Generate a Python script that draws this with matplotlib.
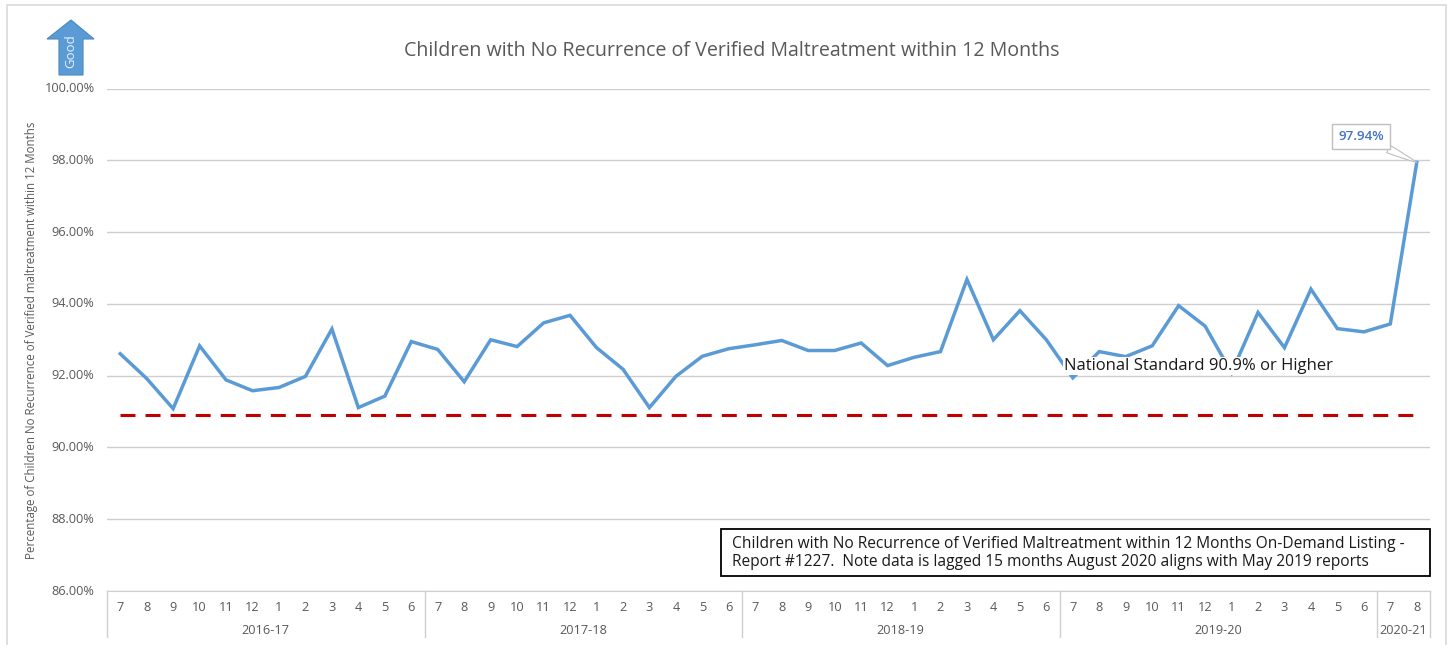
import matplotlib
matplotlib.use("Agg")
import matplotlib.pyplot as plt
from matplotlib.patches import Polygon, Rectangle
from matplotlib.ticker import FuncFormatter
from matplotlib.transforms import ScaledTranslation

W, H = 1450, 645

fiscal_years = ["2016-17", "2017-18", "2018-19", "2019-20", "2020-21"]
months_per_year = [12, 12, 12, 12, 2]
month_labels = [7, 8, 9, 10, 11, 12, 1, 2, 3, 4, 5, 6] * 4 + [7, 8]

recurrence = [92.61, 91.92, 91.08, 92.83, 91.88, 91.58, 91.67, 91.98, 93.30, 91.11, 91.43, 92.95,
              92.73, 91.83, 93.00, 92.81, 93.47, 93.68, 92.78, 92.18, 91.11, 91.98, 92.54, 92.75,
              92.86, 92.98, 92.70, 92.70, 92.91, 92.28, 92.51, 92.67, 94.68, 93.00, 93.81, 93.00,
              91.94, 92.67, 92.53, 92.83, 93.95, 93.38, 92.08, 93.76, 92.78, 94.41, 93.31, 93.22,
              93.44, 97.94]
national_standard = [90.9] * 50
y_ticks = [86, 88, 90, 92, 94, 96, 98, 100]

title_text = "Children with No Recurrence of Verified Maltreatment within 12 Months"
ylabel_text = "Percentage of Children No Recurrence of Verified maltreatment within 12 Months"
standard_text = "National Standard 90.9% or Higher"
note_text = ("Children with No Recurrence of Verified Maltreatment within 12 Months On-Demand Listing -\n"
             "Report #1227.  Note data is lagged 15 months August 2020 aligns with May 2019 reports")

GREY = "#595959"
GRID = "#CFCFCF"
BLUE = "#5B9BD5"


def fx(x):
    return x / W


def fy(y):
    return 1 - y / H


plt.rcParams["font.family"] = ["Open Sans", "DejaVu Sans"]

fig = plt.figure(figsize=(W / 100, H / 100), dpi=100)
ax = fig.add_axes([fx(107), fy(591), (1430 - 107) / W, (591 - 88.5) / H])

xs = list(range(len(recurrence)))
ax.plot(xs, national_standard, color="#C00000", lw=2.2, ls=(0, (4.9, 3.3)), zorder=3)
ax.plot(xs, recurrence, color=BLUE, lw=2.5, zorder=4, solid_joinstyle="miter")

ax.set_xlim(-0.5, len(xs) - 0.5)
ax.set_ylim(86, 100)
ax.set_yticks(y_ticks)
ax.yaxis.set_major_formatter(FuncFormatter(lambda v, p: "%.2f%%" % v))
ax.grid(axis="y", color=GRID, lw=1)
ax.set_axisbelow(True)
for s in ["top", "left", "right"]:
    ax.spines[s].set_visible(False)
ax.spines["bottom"].set_color(GRID)
ax.tick_params(axis="y", length=0, pad=9, labelsize=9.2, labelcolor=GREY)
ax.set_xticks(xs)
ax.set_xticklabels(month_labels)
ax.tick_params(axis="x", length=0, pad=7.5, labelsize=9.2, labelcolor=GREY)

# nudge y labels up a little
up = ScaledTranslation(0, 1.5 / 100, fig.dpi_scale_trans)
for lab in ax.get_yticklabels():
    lab.set_transform(lab.get_transform() + up)

# two level category axis
trans = ax.get_xaxis_transform()
bottom = -(637 - 591) / (591 - 88.5)
start = -0.5
ax.plot([start, start], [0, bottom], transform=trans, color=GRID, lw=1, clip_on=False)
for year, n in zip(fiscal_years, months_per_year):
    end = start + n
    ax.plot([end, end], [0, bottom], transform=trans, color=GRID, lw=1, clip_on=False)
    ax.text((start + end) / 2, -(631 - 591) / (591 - 88.5), year, transform=trans,
            ha="center", va="center", fontsize=9.2, color=GREY)
    start = end

# labels
fig.text(fx(732), fy(51), title_text, ha="center", va="center", fontsize=14.1, color=GREY)
fig.text(fx(32), fy(340), ylabel_text, rotation=90, ha="center", va="center", fontsize=8.3,
         color=GREY)

ax.text(fx(1064), fy(366), standard_text, transform=fig.transFigure, ha="left", va="center",
        fontsize=12, color="#1A1A1A", zorder=6,
        bbox=dict(fc="white", ec="none", pad=1))

fig.add_artist(Rectangle((fx(721), fy(576)), (1430 - 721) / W, (576 - 529) / H, transform=fig.transFigure,
                         fc="white", ec="black", lw=1.3))
fig.text(fx(732), fy(553), note_text, ha="left", va="center", fontsize=11.2, color="#1A1A1A",
         linespacing=1.1)

# callout on the last point
ax.annotate("%.2f%%" % recurrence[-1], xy=(xs[-1], recurrence[-1]), xytext=(1361, H - 136),
            textcoords="figure pixels", ha="center", va="center", fontsize=9.6, color="#4472C4",
            fontweight="semibold", zorder=7,
            bbox=dict(boxstyle="square,pad=0.45", fc="white", ec="#BFBFBF", lw=1),
            arrowprops=dict(arrowstyle="wedge,tail_width=0.6,shrink_factor=0.6", fc="white", ec="#BFBFBF", lw=0.8,
                            shrinkA=0, shrinkB=0))

# good arrow
arrow_pts = [(71, 20), (94, 39), (83, 39), (83, 75), (59, 75), (59, 39), (47, 39)]
fig.add_artist(Polygon([(fx(x), fy(y)) for x, y in arrow_pts], closed=True, transform=fig.transFigure,
                       fc=BLUE, ec="#4A88C0", lw=0.8))
fig.text(fx(71), fy(51), "Good", rotation=90, ha="center", va="center", fontsize=9.5, color="#E8F1FA")

# outer frame, open at the bottom
fig.add_artist(plt.Line2D([fx(7), fx(7), fx(1446), fx(1446)], [0, fy(5), fy(5), 0],
                          transform=fig.transFigure, color="#D9D9D9", lw=1.2))

fig.savefig("out.png", dpi=100)
